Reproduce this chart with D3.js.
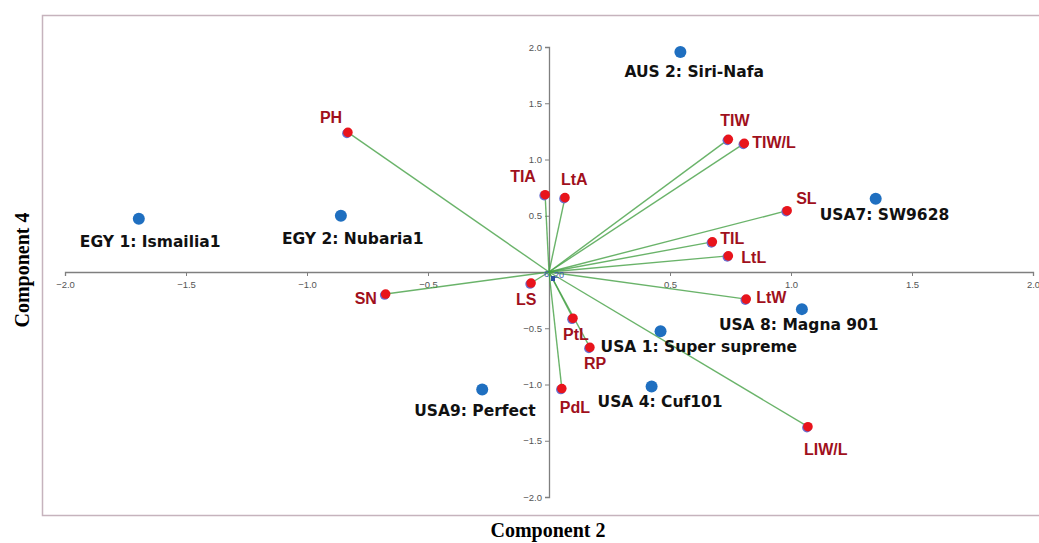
<!DOCTYPE html>
<html><head><meta charset="utf-8">
<script src="https://cdn.jsdelivr.net/npm/d3@7"></script>
<style>body{margin:0;background:#fff}svg{display:block}</style>
</head><body>
<svg id="c" width="1039" height="543"></svg>
<script>
// Genotype scores (Component 2, Component 4)
const genotypes = ["AUS 2: Siri-Nafa","EGY 1: Ismailia1","EGY 2: Nubaria1","USA7: SW9628","USA 8: Magna 901","USA 1: Super supreme","USA 4: Cuf101","USA9: Perfect"];
const genoC2 = [0.543,-1.695,-0.86,1.35,1.045,0.461,0.424,-0.276];
const genoC4 = [1.955,0.473,0.50,0.652,-0.33,-0.527,-1.018,-1.045];
// Trait loadings
const traits = ["PH","TIA","LtA","TIW","TIW/L","SL","TIL","LtL","LtW","LIW/L","SN","LS","PtL","RP","PdL"];
const traitC2 = [-0.831,-0.016,0.066,0.741,0.807,0.984,0.675,0.741,0.815,1.07,-0.675,-0.074,0.099,0.169,0.053];
const traitC4 = [1.241,0.687,0.661,1.179,1.143,0.545,0.268,0.143,-0.241,-1.375,-0.196,-0.098,-0.411,-0.67,-1.036];
const xTicks = [-2.0,-1.5,-1.0,-0.5,0.5,1.0,1.5,2.0];
const yTicks = [-2.0,-1.5,-1.0,-0.5,0.5,1.0,1.5,2.0];

// layout (label offsets in px)
const genoLabelOff = [[-56,25],[-59,28],[-59,28],[-56,21],[-83,21],[-60,21],[-54,20],[-68,26]];
const traitLabelOff = [[-28,-9],[-35,-13],[-4,-13],[-8,-13],[8,5],[9,-7],[8,2],[13,7],[10,4],[-4,28],[-31,10],[-15,22],[-10,22],[-6,22],[-2,24]];

const svg = d3.select("#c");
const x = d3.scaleLinear().domain([-2,2]).range([65,1033]);
const y = d3.scaleLinear().domain([-2,2]).range([497,47]);

// frame
svg.append("rect").attr("x",42.5).attr("y",15.5).attr("width",1010).attr("height",500)
  .attr("fill","#fff").attr("stroke","#c6b3bd").attr("stroke-width",1.5);

// axes
const xAxis = svg.append("g").attr("transform",`translate(0,${y(0)})`)
  .call(d3.axisBottom(x).tickValues(xTicks).tickSize(4).tickFormat(d3.format(".1f")));
const yAxis = svg.append("g").attr("transform",`translate(${x(0)},0)`)
  .call(d3.axisLeft(y).tickValues(yTicks).tickSize(4).tickFormat(d3.format(".1f")));
[xAxis,yAxis].forEach(g=>{
  g.select(".domain").attr("stroke","#7f7f7f").attr("stroke-width",1.3);
  g.selectAll(".tick line").attr("stroke","#7f7f7f");
  g.selectAll(".tick text").attr("fill","#555").attr("font-family","'Liberation Sans Narrow','Liberation Sans',Arial")
    .attr("font-size",9.5);
});
xAxis.selectAll(".tick text").attr("dy","0.9em");

// vectors
const traitData = traits.map((t,i)=>({name:t,c2:traitC2[i],c4:traitC4[i],off:traitLabelOff[i]}));
svg.append("g").selectAll("line").data(traitData).join("line")
  .attr("x1",x(0)).attr("y1",y(0))
  .attr("x2",d=>x(d.c2)).attr("y2",d=>y(d.c4))
  .attr("stroke","#45a045").attr("stroke-opacity",0.8).attr("stroke-width",1.4);

// small hidden labels near origin
const tiny = svg.append("g").attr("fill","#3a5bb0").attr("font-family","'Liberation Sans',Arial").attr("font-size",9);
tiny.append("text").attr("x",x(0)-5).attr("y",y(0)+5).text("6");
tiny.append("text").attr("x",x(0)+5).attr("y",y(0)+6).text("20");
svg.append("rect").attr("x",x(0)+2).attr("y",y(0)+4).attr("width",4).attr("height",5).attr("fill","#2b4fa0");

// trait points (with faint blue marker underneath)
svg.append("g").selectAll("circle").data(traitData).join("circle")
  .attr("cx",d=>x(d.c2)-1).attr("cy",d=>y(d.c4)+1).attr("r",4.8).attr("fill","#6a6fd0");
svg.append("g").selectAll("circle").data(traitData).join("circle")
  .attr("cx",d=>x(d.c2)).attr("cy",d=>y(d.c4)).attr("r",4.8).attr("fill","#e8141c");
svg.append("g").selectAll("text").data(traitData).join("text")
  .attr("x",d=>x(d.c2)+d.off[0]).attr("y",d=>y(d.c4)+d.off[1])
  .attr("fill","#a0101c").attr("font-family","'Liberation Sans',Arial,sans-serif").attr("font-weight","bold")
  .attr("font-size",16).text(d=>d.name);

// genotype points
const genoData = genotypes.map((g,i)=>({name:g,c2:genoC2[i],c4:genoC4[i],off:genoLabelOff[i]}));
svg.append("g").selectAll("circle").data(genoData).join("circle")
  .attr("cx",d=>x(d.c2)).attr("cy",d=>y(d.c4)).attr("r",6).attr("fill","#1f6fc0");
svg.append("g").selectAll("text").data(genoData).join("text")
  .attr("x",d=>x(d.c2)+d.off[0]).attr("y",d=>y(d.c4)+d.off[1])
  .attr("fill","#111").attr("font-family","'DejaVu Sans',sans-serif").attr("font-weight","bold")
  .attr("font-size",15.5).text(d=>d.name);

// axis titles
svg.append("text").attr("x",548).attr("y",537).attr("text-anchor","middle")
  .attr("font-family","'Liberation Serif','Times New Roman',serif").attr("font-weight","bold")
  .attr("font-size",20).text("Component 2");
svg.append("text").attr("transform","translate(29,270) rotate(-90)").attr("text-anchor","middle")
  .attr("font-family","'Liberation Serif','Times New Roman',serif").attr("font-weight","bold")
  .attr("font-size",20).text("Component 4");
</script>
</body></html>
